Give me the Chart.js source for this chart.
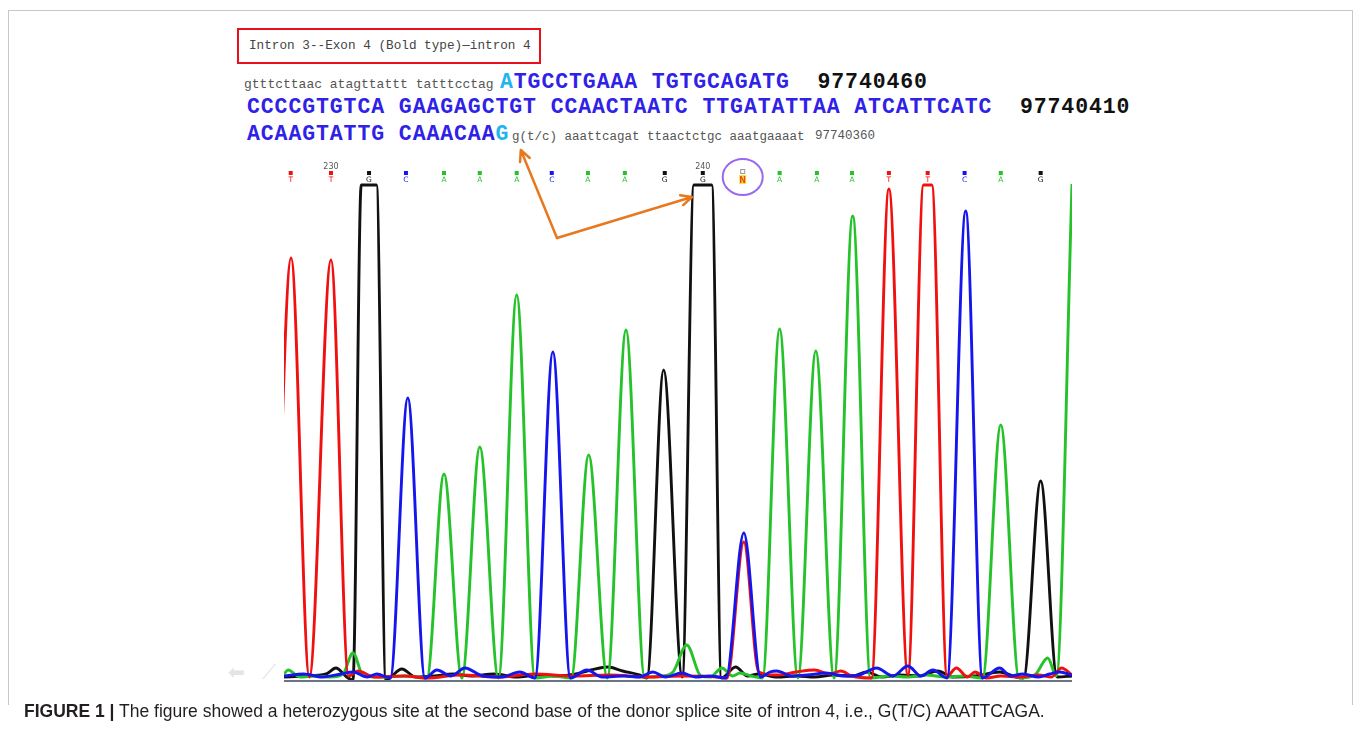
<!DOCTYPE html>
<html>
<head>
<meta charset="utf-8">
<script src="https://cdn.jsdelivr.net/npm/chart.js@4.4.1/dist/chart.umd.min.js"></script>
<style>
    html, body { margin: 0; padding: 0; background: #fff; }
    #page { position: relative; width: 1360px; height: 756px; overflow: hidden; }
    #trace { position: absolute; left: 0; top: 0; }
    .frame { position: absolute; left: 8px; top: 10px; width: 1343px; height: 694px; border: 1px solid #c8c8c8; border-bottom: none; }
    .hdrBox { position: absolute; left: 237px; top: 28px; width: 300px; height: 32px; border: 2.5px solid #e8101a; }
    .mono { position: absolute; font-family: "Liberation Mono", monospace; white-space: pre; line-height: 1; }
    .small { font-size: 13px; color: #555; }
    .big { font-size: 21.5px; font-weight: bold; letter-spacing: 0.9px; color: #2f22e6; }
    .num { color: #111; }
    .cyan { color: #22b4ee; }
    .icon { position: absolute; font-family: "DejaVu Sans", sans-serif; font-size: 20px; color: #e4e4e4; line-height: 1; }
    .caption { position: absolute; left: 24px; top: 701px; font-family: "Liberation Sans", Arial, sans-serif; font-size: 17.5px; color: #231f20; white-space: pre; }
    .caption b { font-weight: bold; }
</style>
</head>
<body>
<div id="page">
    <div class="frame"></div>
    <div class="hdrBox"></div>
    <div class="mono" style="left:249px; top:40px; font-size:12.7px; color:#444;">Intron 3--Exon 4 (Bold type)—intron 4</div>

    <div class="mono small" style="left:244px; top:78px;">gtttcttaac atagttattt tatttcctag</div>
    <div class="mono big" style="left:500px; top:71.5px;"><span class="cyan">A</span>TGCCTGAAA TGTGCAGATG  <span class="num">97740460</span></div>

    <div class="mono big" style="left:247px; top:96.5px;">CCCCGTGTCA GAAGAGCTGT CCAACTAATC TTGATATTAA ATCATTCATC  <span class="num">97740410</span></div>

    <div class="mono big" style="left:247px; top:123.5px;">ACAAGTATTG CAAACAA<span class="cyan">G</span></div>
    <div class="mono small" style="left:512px; top:131px; font-size:12.5px;">g(t/c) aaattcagat ttaactctgc aaatgaaaat</div>
    <div class="mono small" style="left:815px; top:130px; font-size:12.5px;">97740360</div>

    <div class="icon" style="left:228px; top:662px;">⬅</div>
    <div class="icon" style="left:262px; top:662px;">⟋</div>

    <canvas id="trace" width="1360" height="756"></canvas>

    <div class="caption"><b>FIGURE 1 |</b> The figure showed a heterozygous site at the second base of the donor splice site of intron 4, i.e., G(T/C) AAATTCAGA.</div>
</div>

<script>
// base calls shown above the trace (position in base units)
const callPos = [228.95, 230.03, 231.05, 232.04, 233.06, 234.02, 235.01, 235.95, 236.92, 237.91, 238.98,
    240.0, 241.07, 242.06, 243.06, 244.0, 244.99, 246.03, 247.02, 247.99, 249.06];
const callBases = ['T', 'T', 'G', 'C', 'A', 'A', 'A', 'C', 'A', 'A', 'G', 'G', 'N', 'A', 'A', 'A', 'T', 'T', 'C', 'A', 'G'];
const tickNumbers = [230, 240];
const tickPos = [230.03, 240.0];

// traces: [position, signal]
const redTrace = [[228.5, 0], [228.96, 422], [229.45, 3], [230.03, 420], [230.5, 4], [230.75, 9], [231.2, 3], [232, 4],
    [232.6, 2], [233.5, 5], [234.5, 3], [235.5, 6], [236.5, 4], [237.5, 5], [238.5, 3], [239.5, 4], [240.4, 3],
    [240.65, 2], [241.1, 138], [241.5, 8], [242, 5], [242.5, 8], [243, 10], [243.4, 6], [243.7, 9], [244.0, 4],
    [244.52, 2], [244.99, 491], [245.5, 5], [245.92, 495], [246.14, 495], [246.55, 4], [246.8, 12], [247.1, 3],
    [247.3, 8], [247.6, 2], [248, 4], [248.5, 3], [249, 5], [249.35, 3], [249.62, 12], [249.9, 5]];

const blueTrace = [[228.77, 4], [229.3, 6], [229.8, 3], [230.3, 6], [230.62, 8], [231.0, 3], [231.26, 6], [231.62, 2],
    [232.09, 282], [232.55, 2], [232.87, 10], [233.25, 4], [233.62, 12], [234.1, 4], [234.6, 3], [235.09, 8],
    [235.5, 2], [235.98, 328], [236.45, 2], [236.89, 10], [237.3, 3], [237.9, 4], [238.3, 3], [238.66, 8],
    [239.0, 3], [239.44, 7], [239.8, 3], [240.19, 4], [240.62, 2], [241.1, 147], [241.55, 3], [241.8, 8],
    [241.98, 9], [242.4, 4], [242.8, 5], [243.3, 7], [243.8, 4], [244.2, 5], [244.66, 12], [245.1, 4],
    [245.5, 14], [245.85, 4], [246.17, 10], [246.55, 2], [247.05, 469], [247.5, 2], [247.96, 12], [248.25, 4],
    [248.58, 6], [249.0, 3], [249.3, 6], [249.57, 8], [249.9, 5]];

const blackTrace = [[228.77, 3], [229.3, 4], [229.9, 6], [230.16, 12], [230.45, 3], [230.62, 0], [230.84, 495],
    [231.25, 495], [231.5, 0], [231.93, 11], [232.3, 3], [232.8, 4], [233.3, 6], [233.8, 4], [234.4, 6], [235.0, 3],
    [235.6, 5], [236.1, 4], [236.6, 6], [237.0, 10], [237.45, 13], [237.85, 9], [238.3, 5], [238.5, 2],
    [238.95, 310], [239.45, 3], [239.76, 495], [240.24, 495], [240.5, 2], [240.88, 13], [241.2, 4], [241.5, 6],
    [242, 3], [242.5, 4], [243, 3], [243.5, 5], [244.0, 4], [244.4, 8], [244.8, 3], [245.3, 5], [245.8, 4],
    [246.3, 9], [246.7, 3], [247.3, 4], [247.96, 8], [248.4, 3], [248.6, 2], [249.06, 199], [249.5, 3], [249.9, 4]];

const greenTrace = [[228.77, 6], [228.88, 10], [229.2, 3], [229.6, 4], [230.0, 3], [230.35, 6], [230.62, 27],
    [230.9, 4], [231.4, 3], [232.0, 4], [232.6, 2], [233.06, 206], [233.54, 2], [234.02, 233], [234.52, 2],
    [235.01, 385], [235.5, 2], [236.0, 4], [236.47, 2], [236.94, 225], [237.44, 2], [237.94, 350], [238.44, 3],
    [238.9, 4], [239.2, 8], [239.57, 35], [239.95, 4], [240.2, 3], [240.51, 12], [240.8, 4], [241.0, 7],
    [241.3, 4], [241.6, 2], [242.06, 351], [242.55, 2], [243.03, 329], [243.52, 2], [244.02, 464], [244.5, 2],
    [245.0, 4], [245.5, 3], [246.0, 5], [246.5, 3], [247.0, 4], [247.5, 2], [247.99, 255], [248.48, 2],
    [248.9, 5], [249.25, 22], [249.48, 4], [249.9, 496]];

// orange arrow: vertex and two tips, in trace units
const arrowVertex = [236.09, 442];
const arrowTips = [[235.12, 530], [239.71, 483]];

const baseColors = { T: '#f01010', G: '#111111', C: '#1515ee', A: '#25c22a', N: '#e8501a' };

function makeSet(name, pts, color, order) {
    return {
        label: name,
        data: pts.map(p => ({ x: p[0], y: p[1] })),
        borderColor: color,
        borderWidth: 2.9,
        pointRadius: 0,
        fill: false,
        cubicInterpolationMode: 'monotone',
        order: order
    };
}

const overlay = {
    id: 'overlay',
    afterDraw(chart) {
        const ctx = chart.ctx;
        const xs = chart.scales.x;
        const ys = chart.scales.y;
        const area = chart.chartArea;
        ctx.save();

        // baseline
        ctx.strokeStyle = '#3a4658';
        ctx.lineWidth = 1.5;
        ctx.beginPath();
        ctx.moveTo(area.left, ys.getPixelForValue(0) + 1);
        ctx.lineTo(area.right, ys.getPixelForValue(0) + 1);
        ctx.stroke();

        // base calls
        ctx.textAlign = 'center';
        ctx.textBaseline = 'alphabetic';
        callBases.forEach((b, i) => {
            const x = xs.getPixelForValue(callPos[i]);
            if (b === 'N') {
                ctx.strokeStyle = '#999';
                ctx.lineWidth = 1;
                ctx.strokeRect(x - 2, area.top - 10.5, 4, 4);
                ctx.fillStyle = '#f7e24a';
                ctx.fillRect(x - 3.5, area.top - 5, 7, 9);
                ctx.fillStyle = baseColors.N;
                ctx.font = 'bold 8px "DejaVu Sans"';
                ctx.fillText('N', x, area.top + 3);
                return;
            }
            ctx.fillStyle = baseColors[b];
            ctx.fillRect(x - 2, area.top - 9, 4, 4);
            ctx.font = '7.5px "DejaVu Sans"';
            ctx.fillText(b, x, area.top + 2);
        });

        ctx.fillStyle = '#555';
        ctx.font = '8px "DejaVu Sans"';
        tickNumbers.forEach((n, i) => {
            ctx.fillText(String(n), xs.getPixelForValue(tickPos[i]), area.top - 11);
        });

        // circle round the heterozygous call
        ctx.strokeStyle = '#9a68ee';
        ctx.lineWidth = 2;
        ctx.beginPath();
        ctx.ellipse(xs.getPixelForValue(241.07), area.top - 3, 20, 18, 0, 0, Math.PI * 2);
        ctx.stroke();

        // orange arrows
        const vx = xs.getPixelForValue(arrowVertex[0]);
        const vy = ys.getPixelForValue(arrowVertex[1]);
        ctx.strokeStyle = '#e8781e';
        ctx.lineWidth = 2.5;
        ctx.lineCap = 'round';
        ctx.lineJoin = 'round';
        arrowTips.forEach(t => {
            const tx = xs.getPixelForValue(t[0]);
            const ty = ys.getPixelForValue(t[1]);
            const ang = Math.atan2(ty - vy, tx - vx);
            ctx.beginPath();
            ctx.moveTo(vx, vy);
            ctx.lineTo(tx, ty);
            ctx.moveTo(tx - 12 * Math.cos(ang - 0.45), ty - 12 * Math.sin(ang - 0.45));
            ctx.lineTo(tx, ty);
            ctx.lineTo(tx - 12 * Math.cos(ang + 0.45), ty - 12 * Math.sin(ang + 0.45));
            ctx.stroke();
        });
        ctx.restore();
    }
};

new Chart(document.getElementById('trace'), {
    type: 'line',
    data: {
        datasets: [
            makeSet('G', blackTrace, '#111111', 4),
            makeSet('A', greenTrace, '#25c22a', 3),
            makeSet('T', redTrace, '#f01010', 2),
            makeSet('C', blueTrace, '#1515ee', 1)
        ]
    },
    options: {
        responsive: false,
        devicePixelRatio: 1,
        animation: false,
        layout: { padding: { left: 284, right: 288, top: 180, bottom: 76 } },
        scales: {
            x: { type: 'linear', min: 228.77, max: 249.9, display: false },
            y: { min: 0, max: 500, display: false }
        },
        plugins: { legend: { display: false }, tooltip: { enabled: false } }
    },
    plugins: [overlay]
});
</script>
</body>
</html>
